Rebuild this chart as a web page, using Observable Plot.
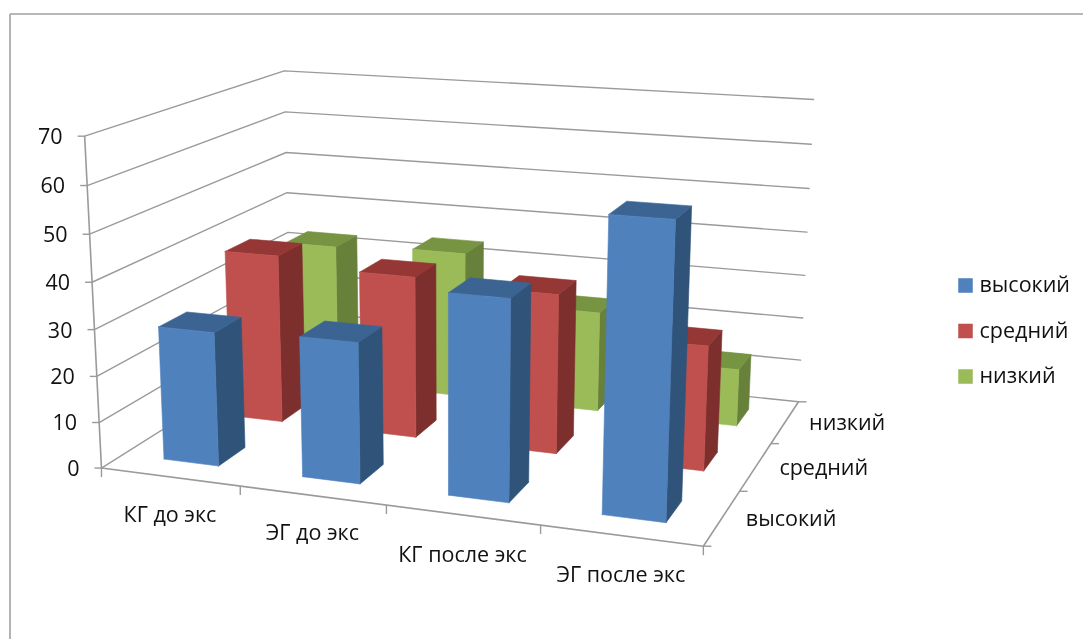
<!DOCTYPE html>
<html lang="ru">
<head>
<meta charset="utf-8">
<script src="https://cdn.jsdelivr.net/npm/d3@7"></script>
<script src="https://cdn.jsdelivr.net/npm/@observablehq/plot@0.6"></script>
<style>
html,body{margin:0;padding:0;background:#fff}
svg{display:block;filter:blur(0.6px)}
</style>
</head>
<body>
<div id="chart"></div>
<script>
// ---- chart values ----
const categories = ["КГ до экс", "ЭГ до экс", "КГ после экс", "ЭГ после экс"];
const seriesNames = ["высокий", "средний", "низкий"];
const vysokiy = [29, 30, 42, 60];
const sredniy = [38, 36, 35, 27];
const nizkiy = [33, 34, 23, 13];
const valueTicks = [0, 10, 20, 30, 40, 50, 60, 70];
const seriesValues = [vysokiy, sredniy, nizkiy];

// ---- styles ----
const frontColors = ["#4f81bd", "#c0504d", "#9bbb59"];
const sideColors = ["#2f5379", "#7c2f2d", "#67803a"];
const topColors = ["#3b6493", "#943735", "#769441"];
const FONT = "'Open Sans', Lato, sans-serif";
const TEXT = "#111";
const GRID = "#9a9a9a";
const depthLabelShift = [69, 68, 62];
const catLabelDrop = [38, 38, 40, 40];

// ---- camera: where the corners of the 3D box land on the page ----
const maxValue = 70;
const calibration = [
  [0, 0, 0, 101, 467], [1, 0, 0, 703, 546], [0, 1, 0, 290, 349], [1, 1, 0, 798, 401],
  [0, 0, 1, 84, 136], [0, 1, 1, 284, 70], [1, 1, 1, 813, 99]
];
function solveCamera(pts) {
  const n = 11, A = Array.from({length: n}, () => new Array(n + 1).fill(0));
  const add = (r, b) => {
    for (let i = 0; i < n; i++) {
      for (let j = 0; j < n; j++) A[i][j] += r[i] * r[j];
      A[i][n] += r[i] * b;
    }
  };
  for (const [X, Y, Z, u, v] of pts) {
    add([X, Y, Z, 1, 0, 0, 0, 0, -u * X, -u * Y, -u * Z], u);
    add([0, 0, 0, 0, X, Y, Z, 1, -v * X, -v * Y, -v * Z], v);
  }
  // small ridge on the perspective terms keeps the fit well behaved
  for (let i = 8; i < n; i++) A[i][i] += 1e-6;
  for (let c = 0; c < n; c++) {
    let p = c;
    for (let r = c + 1; r < n; r++) if (Math.abs(A[r][c]) > Math.abs(A[p][c])) p = r;
    [A[c], A[p]] = [A[p], A[c]];
    for (let r = 0; r < n; r++) {
      if (r === c) continue;
      const f = A[r][c] / A[c][c];
      for (let k = c; k <= n; k++) A[r][k] -= f * A[c][k];
    }
  }
  return A.map((row, i) => row[n] / row[i]);
}
const m = solveCamera(calibration);
function project(X, Y, value) {
  const Z = value / maxValue;
  const w = m[8] * X + m[9] * Y + m[10] * Z + 1;
  return [(m[0] * X + m[1] * Y + m[2] * Z + m[3]) / w, (m[4] * X + m[5] * Y + m[6] * Z + m[7]) / w];
}

// ---- bars: back row first so nearer bars paint over farther ones ----
const gap = 0.3;
const faces = [];
function addFace(id, fill, corners) {
  for (const c of [...corners, corners[0]]) {
    const [x, y] = project(c[0], c[1], c[2]);
    faces.push({id, fill, x, y});
  }
}
for (let s = seriesNames.length - 1; s >= 0; s--) {
  categories.forEach((_, i) => {
    const v = seriesValues[s][i];
    const x0 = (i + gap) / categories.length, x1 = (i + 1 - gap) / categories.length;
    const y0 = (s + gap) / seriesNames.length, y1 = (s + 1 - gap) / seriesNames.length;
    addFace(`${s}-${i}-side`, sideColors[s], [[x1, y0, 0], [x1, y1, 0], [x1, y1, v], [x1, y0, v]]);
    addFace(`${s}-${i}-top`, topColors[s], [[x0, y0, v], [x1, y0, v], [x1, y1, v], [x0, y1, v]]);
    addFace(`${s}-${i}-front`, frontColors[s], [[x0, y0, 0], [x1, y0, 0], [x1, y0, v], [x0, y0, v]]);
  });
}

// ---- grid, axes, ticks ----
const gridPts = valueTicks.flatMap(v => [[0, 0, v], [0, 1, v], [1, 1, v]].map(c => {
  const [x, y] = project(...c);
  return {v, x, y};
}));
const segment = (a, b) => {
  const [x1, y1] = project(...a), [x2, y2] = project(...b);
  return {x1, y1, x2, y2};
};
const axisLinks = [
  segment([0, 0, 0], [0, 0, maxValue]),
  segment([0, 0, 0], [1, 0, 0]),
  segment([1, 0, 0], [1, 1, 0])
];
const tickLinks = [];
valueTicks.forEach(v => { const p = project(0, 0, v); tickLinks.push({x1: p[0], y1: p[1], x2: p[0] - 7, y2: p[1]}); });
d3.range(categories.length + 1).forEach(i => { const p = project(i / categories.length, 0, 0); tickLinks.push({x1: p[0], y1: p[1], x2: p[0], y2: p[1] + 9}); });
d3.range(seriesNames.length + 1).forEach(j => { const p = project(1, j / seriesNames.length, 0); tickLinks.push({x1: p[0], y1: p[1], x2: p[0] + 8, y2: p[1]}); });

const valueLabels = valueTicks.map(v => { const p = project(0, 0, v); return {t: String(v), x: p[0] - 22, y: p[1] + 1}; });
const catLabels = categories.map((t, i) => { const p = project((i + 0.5) / categories.length, 0, 0); return {t, x: p[0], y: p[1] + catLabelDrop[i]}; });
const depthLabels = seriesNames.map((t, j) => { const p = project(1, (j + 0.5) / seriesNames.length, 0); return {t, x: p[0] + depthLabelShift[j], y: p[1] + 1}; });

// ---- legend ----
const legendRows = seriesNames.map((t, i) => ({t, fill: frontColors[i], y: 285 + i * 45.5}));

const chart = Plot.plot({
  width: 1083, height: 639,
  margin: 0,
  style: {background: "#fff", fontFamily: FONT},
  x: {type: "linear", domain: [0, 1083], range: [0, 1083], axis: null},
  y: {type: "linear", domain: [0, 639], range: [0, 639], axis: null},
  color: {type: "identity"},
  marks: [
    Plot.link([{x1: 9.5, y1: 639, x2: 9.5, y2: 13.5}, {x1: 9.5, y1: 13.5, x2: 1083, y2: 13.5}],
      {x1: "x1", y1: "y1", x2: "x2", y2: "y2", stroke: "#a0a0a0", strokeWidth: 1.6}),
    Plot.line(gridPts, {x: "x", y: "y", z: "v", stroke: GRID, strokeWidth: 1.4}),
    Plot.link(axisLinks, {x1: "x1", y1: "y1", x2: "x2", y2: "y2", stroke: GRID, strokeWidth: 1.6}),
    Plot.link(tickLinks, {x1: "x1", y1: "y1", x2: "x2", y2: "y2", stroke: GRID, strokeWidth: 1.4}),
    Plot.line(faces, {x: "x", y: "y", z: "id", fill: "fill", stroke: "fill", strokeWidth: 0.6}),
    Plot.text(valueLabels, {x: "x", y: "y", text: "t", textAnchor: "end", fontSize: 21.5, fill: TEXT}),
    Plot.text(catLabels, {x: "x", y: "y", text: "t", textAnchor: "middle", fontSize: 21.5, fill: TEXT}),
    Plot.text(depthLabels, {x: "x", y: "y", text: "t", textAnchor: "middle", fontSize: 21.5, fill: TEXT}),
    Plot.dot(legendRows, {x: () => 965, y: "y", symbol: "square", r: 8.2, fill: "fill"}),
    Plot.text(legendRows, {x: () => 979, y: "y", text: "t", textAnchor: "start", fontSize: 21.5, fill: TEXT})
  ]
});
document.getElementById("chart").appendChild(chart);
</script>
</body>
</html>
